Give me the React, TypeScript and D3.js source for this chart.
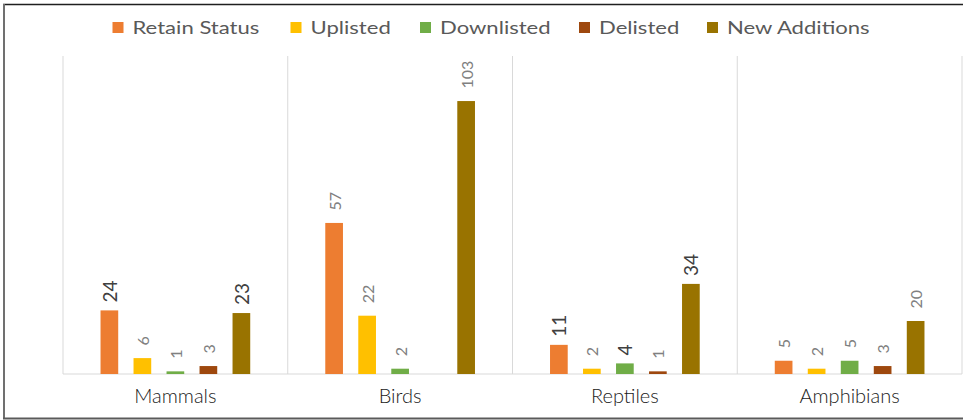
import React from "react";
import * as d3 from "d3";

// Species counts by taxonomic class and change of status
const categories = ["Mammals", "Birds", "Reptiles", "Amphibians"];
const seriesNames = ["Retain Status", "Uplisted", "Downlisted", "Delisted", "New Additions"];
const retainStatus = [24, 57, 11, 5];
const uplisted = [6, 22, 2, 2];
const downlisted = [1, 2, 4, 5];
const delisted: (number | null)[] = [3, null, 1, 3];
const newAdditions = [23, 103, 34, 20];
const seriesColors = ["#ED7D31", "#FFC000", "#70AD47", "#9E480E", "#997300"];
// labels printed larger and darker: [category, series]
const emphasized: [string, string][] = [
  ["Mammals", "Retain Status"],
  ["Mammals", "New Additions"],
  ["Reptiles", "Retain Status"],
  ["Reptiles", "Downlisted"],
  ["Reptiles", "New Additions"],
];
const yMax = 120;

const seriesValues = [retainStatus, uplisted, downlisted, delisted, newAdditions];

const W = 963;
const H = 420;
const plot = { left: 63, right: 962, top: 56, bottom: 374 };
const legendX = [112.5, 290.5, 420, 579, 707];

export default function App() {
  const x0 = d3.scaleBand<string>().domain(categories).range([plot.left, plot.right]).padding(0);
  const x1 = d3
    .scaleBand<string>()
    .domain(seriesNames)
    .range([0, x0.bandwidth()])
    .paddingInner(0.464)
    .paddingOuter(1.137);
  const y = d3.scaleLinear().domain([0, yMax]).range([plot.bottom, plot.top]);

  const isEmph = (c: string, s: string) => emphasized.some(([ec, es]) => ec === c && es === s);

  const font = "Lato, 'Open Sans', sans-serif";

  return (
    <svg
      width={W}
      height={H}
      viewBox={`0 0 ${W} ${H}`}
      style={{ position: "absolute", left: 0, top: 0, background: "#fff" }}
    >
      <rect x={0} y={0} width={W} height={H} fill="#fff" />
      {/* category separators */}
      {[...categories.map((c) => x0(c)!), plot.right].map((gx, i) => (
        <line key={i} x1={gx} x2={gx} y1={plot.top} y2={plot.bottom} stroke="#D9D9D9" strokeWidth={1} />
      ))}
      <line x1={plot.left} x2={plot.right} y1={plot.bottom} y2={plot.bottom} stroke="#D9D9D9" strokeWidth={1} />

      {categories.map((c, ci) => (
        <g key={c} transform={`translate(${x0(c)},0)`}>
          {seriesNames.map((s, si) => {
            const v = seriesValues[si][ci];
            if (v == null) return null;
            const bx = x1(s)!;
            const bw = x1.bandwidth();
            const top = y(v);
            const emph = isEmph(c, s);
            const lx = bx + bw / 2;
            const ly = top - (emph ? 8 : 12.5);
            return (
              <g key={s}>
                <rect x={bx} y={top} width={bw} height={plot.bottom - top} fill={seriesColors[si]} />
                <text
                  transform={`translate(${lx},${ly}) rotate(-90)`}
                  dominantBaseline="central"
                  textAnchor="start"
                  fontFamily={font}
                  fontSize={emph ? 19 : 16}
                  fill={emph ? "#404040" : "#808080"}
                >
                  {v}
                </text>
              </g>
            );
          })}
          <text
            x={x0.bandwidth() / 2}
            y={402.5}
            textAnchor="middle"
            fontFamily={font}
            fontSize={20}
            fontWeight={300}
            fill="#1a1a1a"
          >
            {c}
          </text>
        </g>
      ))}

      {/* legend */}
      {seriesNames.map((s, i) => (
        <g key={s} transform={`translate(${legendX[i]},22)`}>
          <rect x={0} y={0} width={11} height={11} fill={seriesColors[i]} />
          <text
            transform="translate(20,11.5) scale(1.3,1)"
            fontFamily={font}
            fontSize={17}
            fill="#595959"
          >
            {s}
          </text>
        </g>
      ))}

      {/* frame */}
      <line x1={3} x2={W} y1={4.5} y2={4.5} stroke="#1f1f1f" strokeWidth={1.5} />
      <line x1={4} x2={4} y1={4} y2={419} stroke="#707070" strokeWidth={2} />
      <line x1={3} x2={W} y1={418.5} y2={418.5} stroke="#5a5a5a" strokeWidth={2} />
    </svg>
  );
}
